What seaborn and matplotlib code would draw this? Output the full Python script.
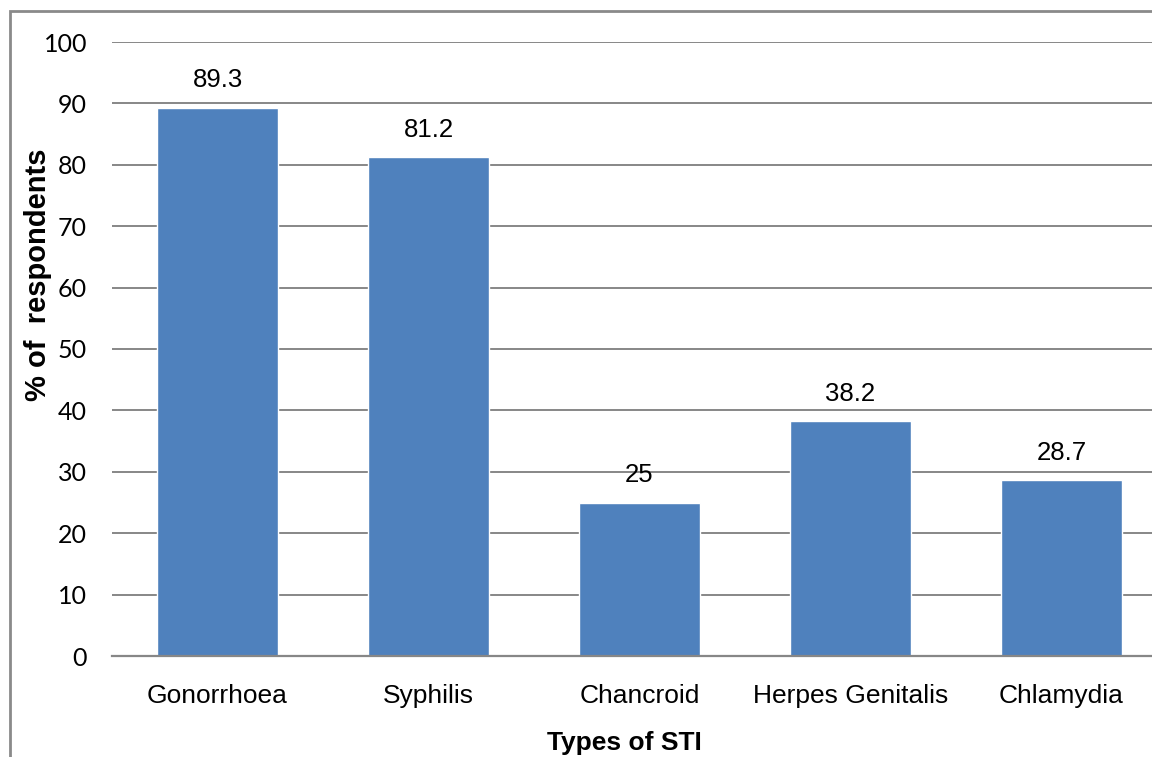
import matplotlib
matplotlib.use('Agg')
import matplotlib.pyplot as plt
import pandas as pd
import seaborn as sns
from matplotlib.patches import Rectangle

sns.set_theme(style='white')

infections = ['Gonorrhoea', 'Syphilis', 'Chancroid', 'Herpes Genitalis', 'Chlamydia']
percent = [89.3, 81.2, 25, 38.2, 28.7]
y_ticks = [0, 10, 20, 30, 40, 50, 60, 70, 80, 90, 100]

df = pd.DataFrame({'sti': infections, 'pct': percent})

W, H = 1152, 757
fig = plt.figure(figsize=(W / 100, H / 100), dpi=100)
ax = fig.add_axes([112 / W, 1 - 656 / H, 1055 / W, 614 / H])

sns.barplot(data=df, x='sti', y='pct', color='#4F81BD', saturation=1,
            width=0.573, ax=ax, zorder=2)

ax.set_ylim(0, 100)
ax.set_yticks(y_ticks)
ax.set_xlim(-0.5, 4.5)
ax.grid(axis='y', color='#878787', linewidth=1.4, zorder=0)
ax.set_axisbelow(True)
for side in ['left', 'right', 'top']:
    ax.spines[side].set_visible(False)
ax.spines['bottom'].set_color('#878787')
ax.spines['bottom'].set_linewidth(1.6)
ax.spines['bottom'].set_zorder(3)

ax.tick_params(axis='y', length=0, pad=18, labelsize=18, labelcolor='black')
ax.tick_params(axis='x', length=0, pad=20, labelsize=19, labelcolor='black')
for lab in ax.get_yticklabels():
    lab.set_fontfamily('Lato')
for lab in ax.get_xticklabels():
    lab.set_fontfamily('Liberation Sans')
ax.set_xlabel('')
ax.set_ylabel('')

for cont in ax.containers:
    ax.bar_label(cont, fmt='%g', padding=11, fontsize=18.5,
                 family='Liberation Sans', color='black')

fig.text(624 / W, 1 - 743 / H, 'Types of STI', ha='center', va='center',
         fontsize=19, fontweight='bold', family='Liberation Sans', color='black')
fig.text(38 / W, 1 - 275 / H, '% of  respondents', ha='center', va='center',
         rotation=90, fontsize=21, fontweight='bold', family='Liberation Sans',
         color='black')

fig.patches.append(Rectangle((9.5 / W, -0.1), 1.2, 1 - 10.5 / H + 0.1,
                             transform=fig.transFigure, fill=False,
                             edgecolor='#8a8a8a', linewidth=2))

fig.savefig('out.png', dpi=100)
